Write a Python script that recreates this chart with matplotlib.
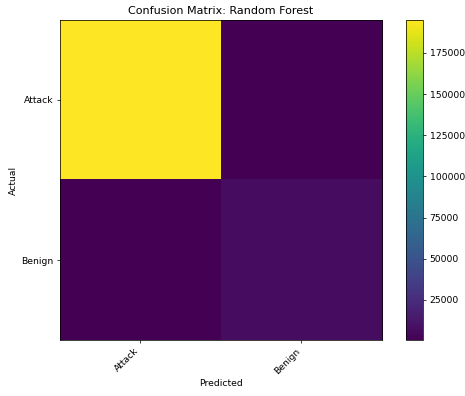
import numpy as np
import matplotlib
matplotlib.use("Agg")
import matplotlib.pyplot as plt

labels = ["Attack", "Benign"]
cm = np.array([[195000, 1200],
               [700, 7000]])

DPI = 200 / 3
fig = plt.figure(figsize=(465 / DPI, 396 / DPI), dpi=DPI)
ax = fig.add_axes([0.129, 0.1414, 0.6925, 0.8081])
cax = fig.add_axes([0.873, 0.1414, 0.037, 0.8081])
im = ax.imshow(cm, cmap="viridis", aspect="auto", interpolation="nearest")
cb = fig.colorbar(im, cax=cax)
ax.set_xticks(range(len(labels)))
ax.set_xticklabels(labels, rotation=45, ha="right")
ax.set_yticks(range(len(labels)))
ax.set_yticklabels(labels)
ax.set_xlabel("Predicted")
ax.set_ylabel("Actual")
ax.set_title("Confusion Matrix: Random Forest")
fig.savefig("out.png", dpi=DPI)
